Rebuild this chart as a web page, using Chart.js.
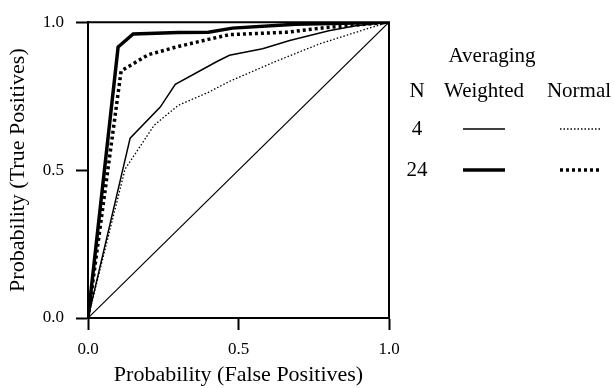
<!DOCTYPE html>
<html>
<head>
<meta charset="utf-8">
<script src="https://cdn.jsdelivr.net/npm/chart.js@4/dist/chart.umd.min.js"></script>
<style>
  html, body { margin: 0; padding: 0; background: #fff; }
  #wrap { width: 615px; height: 388px; }
</style>
</head>
<body>
<div id="wrap"><canvas id="roc"></canvas></div>
<script>
// ROC points (false positive rate -> true positive rate)
const weighted24X = [0, 0.10, 0.15, 0.30, 0.40, 0.48, 0.69, 1.0];
const weighted24Y = [0, 0.916, 0.96, 0.965, 0.966, 0.980, 0.993, 1.0];

const normal24X = [0, 0.11, 0.20, 0.30, 0.40, 0.47, 0.66, 0.79, 1.0];
const normal24Y = [0, 0.835, 0.89, 0.918, 0.942, 0.958, 0.966, 0.982, 1.0];

const weighted4X = [0, 0.14, 0.24, 0.29, 0.43, 0.47, 0.58, 0.67, 0.80, 0.89, 1.0];
const weighted4Y = [0, 0.608, 0.713, 0.79, 0.868, 0.888, 0.91, 0.938, 0.971, 0.988, 1.0];

const normal4X = [0, 0.123, 0.22, 0.30, 0.40, 0.47, 0.62, 0.77, 0.94, 1.0];
const normal4Y = [0, 0.503, 0.652, 0.719, 0.763, 0.80, 0.866, 0.927, 0.982, 1.0];

const chanceX = [0, 1];
const chanceY = [0, 1];

const tickValues = [0, 0.5, 1.0];
const legendTitle = 'Averaging';
const legendColumns = ['N', 'Weighted', 'Normal'];
const legendRows = ['4', '24'];

const serif = '"Liberation Serif", "DejaVu Serif", serif';

function pts(xs, ys) {
    return xs.map(function(x, i) { return { x: x, y: ys[i] }; });
}

const styles = {
    w4:  { borderWidth: 1.5, borderDash: [] },
    n4:  { borderWidth: 1.3, borderDash: [1.5, 2] },
    w24: { borderWidth: 3.5, borderDash: [] },
    n24: { borderWidth: 3.5, borderDash: [3, 3] }
};

function lineSet(label, data, st) {
    return {
        label: label,
        data: data,
        showLine: true,
        borderColor: '#000',
        borderWidth: st.borderWidth,
        borderDash: st.borderDash,
        pointRadius: 0,
        tension: 0,
        fill: false
    };
}

// frame on top and right + tabular legend
const framePlugin = {
    id: 'frame',
    afterDatasetsDraw: function(chart) {
        const a = chart.chartArea;
        const c = chart.ctx;
        c.save();
        c.strokeStyle = '#000';
        c.lineWidth = 2;
        c.beginPath();
        c.moveTo(a.left, a.top);
        c.lineTo(a.right, a.top);
        c.lineTo(a.right, a.bottom);
        c.stroke();

        // legend table
        const x0 = a.right;
        c.fillStyle = '#000';
        c.font = '21px ' + serif;
        c.textAlign = 'center';
        c.textBaseline = 'alphabetic';
        c.fillText(legendTitle, x0 + 103, 62);
        const colX = [x0 + 28, x0 + 95, x0 + 190];
        legendColumns.forEach(function(t, i) { c.fillText(t, colX[i], 97); });
        const rowY = [129, 170];
        const rowStyles = [[styles.w4, styles.n4], [styles.w24, styles.n24]];
        legendRows.forEach(function(t, r) {
            c.fillText(t, colX[0], rowY[r] + 6);
            [x0 + 74, x0 + 171].forEach(function(lx, k) {
                const st = rowStyles[r][k];
                c.lineWidth = st.borderWidth;
                c.setLineDash(st.borderDash);
                c.beginPath();
                c.moveTo(lx, rowY[r]);
                c.lineTo(lx + 42, rowY[r]);
                c.stroke();
            });
        });
        c.restore();
    }
};

new Chart(document.getElementById('roc'), {
    type: 'scatter',
    data: {
        datasets: [
            lineSet('chance', pts(chanceX, chanceY), { borderWidth: 1.2, borderDash: [] }),
            lineSet('Normal, N=4', pts(normal4X, normal4Y), styles.n4),
            lineSet('Weighted, N=4', pts(weighted4X, weighted4Y), styles.w4),
            lineSet('Normal, N=24', pts(normal24X, normal24Y), styles.n24),
            lineSet('Weighted, N=24', pts(weighted24X, weighted24Y), styles.w24)
        ]
    },
    options: {
        responsive: true,
        maintainAspectRatio: false,
        animation: false,
        layout: { padding: { left: 0, right: 226, top: 17, bottom: 0 } },
        scales: {
            x: {
                type: 'linear',
                min: 0,
                max: 1,
                afterFit: function(s) { s.height = 70; },
                afterBuildTicks: function(s) { s.ticks = tickValues.map(function(v) { return { value: v }; }); },
                border: { color: '#000', width: 2 },
                grid: { drawOnChartArea: false, tickLength: 12, tickColor: '#000', tickWidth: 2 },
                ticks: {
                    color: '#000',
                    padding: 9,
                    maxRotation: 0,
                    font: { family: serif, size: 17 },
                    callback: function(v) { return Number(v).toFixed(1); }
                },
                title: {
                    display: true,
                    text: 'Probability (False Positives)',
                    color: '#000',
                    font: { family: serif, size: 22 },
                    padding: { top: 0, bottom: 0 }
                }
            },
            y: {
                type: 'linear',
                min: 0,
                max: 1,
                afterFit: function(s) { s.width = 88; },
                afterBuildTicks: function(s) { s.ticks = tickValues.map(function(v) { return { value: v }; }); },
                border: { color: '#000', width: 2 },
                grid: { drawOnChartArea: false, tickLength: 12, tickColor: '#000', tickWidth: 2 },
                ticks: {
                    color: '#000',
                    padding: 12,
                    font: { family: serif, size: 17 },
                    callback: function(v) { return Number(v).toFixed(1); }
                },
                title: {
                    display: true,
                    text: 'Probability (True Positives)',
                    color: '#000',
                    font: { family: serif, size: 22 },
                    padding: { top: 5, bottom: 0 }
                }
            }
        },
        plugins: {
            legend: { display: false },
            tooltip: { enabled: false }
        }
    },
    plugins: [framePlugin]
});
</script>
</body>
</html>
